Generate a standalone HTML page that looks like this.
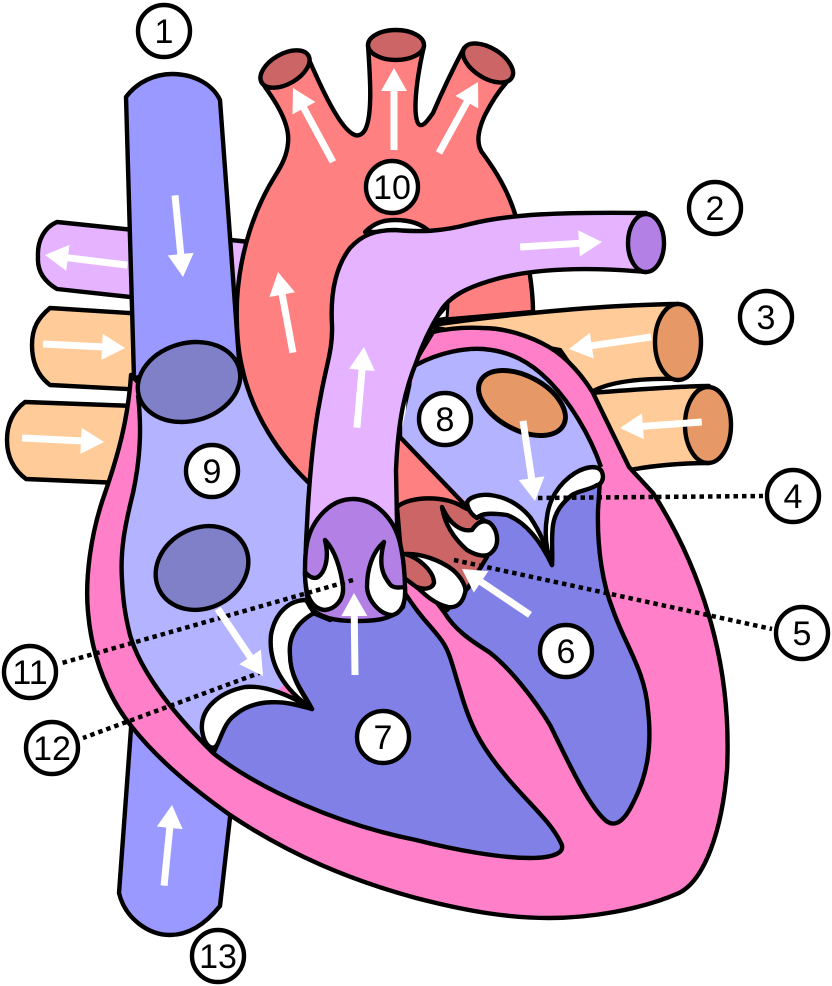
<!DOCTYPE html>
<html><head><meta charset="utf-8"><title>Heart diagram</title>
<style>html,body{margin:0;padding:0;background:#fff}svg{display:block}</style></head>
<body>
<svg xmlns="http://www.w3.org/2000/svg" width="832" height="986" viewBox="0 0 832 986">
<g stroke="#000" stroke-width="4.4" stroke-linejoin="round" stroke-linecap="butt">
<!-- left tubes -->
<path fill="#e5b3ff" d="M57,222 L250,242 L250,310 L57,289 C45,282 37,272 38,257 C37,240 45,227 57,222Z"/>
<path fill="#ffcc99" d="M50,308 L145,314 L145,390 L50,385 C38,376 32,362 32,345 C32,328 38,318 50,308Z"/>
<path fill="#ffcc99" d="M25,402 L135,406 L120,483 L26,479 C14,470 7,457 7,440 C7,424 13,411 25,402Z"/>
<!-- right orange tubes -->
<path fill="#ffcc99" d="M590,393 C630,390 680,386 709,386 L709,463 C680,463 650,466 630,470Z"/>
<ellipse cx="708" cy="425" rx="23" ry="38" fill="#e69966"/>
<path fill="#ffcc99" d="M425,326 C500,315 600,305 678,304 L679,379 C650,378 610,380 590,393 L560,350Z"/>
<ellipse cx="678" cy="342" rx="23" ry="38" fill="#e69966"/>
<!-- IVC -->
<path fill="#9999ff" d="M132,715 L119,893 C125,918 148,935 170,935 C190,935 207,922 220,906 L232,800Z"/>
<!-- heart muscle -->
<path fill="#ff80c8" d="M131,375 C128,420 118,455 105,493 C90,535 85,580 88,612 C92,660 110,700 132,727 C160,762 195,790 230,815 C290,855 350,880 416,898 C470,912 510,918 549,918 C590,918 640,910 679,893 C705,880 722,830 727,770 C730,710 722,660 709,616 C697,575 680,535 653,493 L629,467 L593,393 C584,378 568,358 549,347 C530,336 505,328 483,328 C465,327 450,328 433,332 L410,370 L400,600 L250,500Z"/>
<!-- right atrium -->
<path stroke="none" fill="#b3b3ff" d="M138,390 C142,430 140,460 133,493 C125,525 120,550 122,580 C123,600 125,615 130,635 C140,670 170,710 213,753 L330,640 L330,450 L240,360Z"/>
<path fill="none" d="M138,395 C142,430 140,460 133,493 C125,525 120,550 122,580 C123,600 125,615 130,635 C140,670 170,710 213,753"/>
<ellipse cx="202" cy="568" rx="48" ry="40" transform="rotate(-28 202 568)" fill="#8080c8"/>
<!-- right ventricle -->
<path fill="#8080e6" d="M213,753 C260,790 340,825 416,840 C455,850 500,858 530,858 C555,858 566,852 561,843 C550,820 525,800 505,775 C480,745 470,725 460,690 C452,665 450,650 439,637 C430,625 420,617 403,590 L330,620 L313,613 C295,620 287,640 290,660 C292,680 305,695 312,709 C290,703 270,697 245,706 C230,712 225,725 217,745 C215,750 214,752 213,753Z"/>
<!-- tricuspid leaflets -->
<path fill="#fff" d="M312,709 C300,690 290,675 290,655 C288,635 298,622 314,613 L306,600 C290,600 275,612 271,635 C268,665 285,690 312,709Z"/>
<path fill="#fff" d="M312,709 C290,695 265,685 245,687 C220,692 200,708 202,730 C204,745 212,752 217,745 C222,735 225,722 235,715 C255,698 285,700 312,709Z"/>
<!-- left atrium -->
<path stroke="none" fill="#b3b3ff" d="M416,365 C440,352 465,348 483,349 C510,351 530,362 548,380 C570,402 590,435 601,467 L600,490 L552,565 L467,503 L400,437Z"/>
<path fill="none" d="M416,365 C440,352 465,348 483,349 C510,351 530,362 548,380 C570,402 590,435 601,467"/>
<ellipse cx="522" cy="403" rx="47" ry="27" transform="rotate(28 522 403)" fill="#e69966" stroke-width="5"/>
<!-- left ventricle -->
<path stroke="none" fill="#8080e6" d="M444,612 C455,630 470,640 489,652 C510,668 535,700 550,725 C565,755 585,800 603,818 C612,828 622,825 632,805 C648,775 652,745 648,710 C645,670 625,645 613,610 C603,585 597,550 598,510 L600,480 L577,492 L557,510 L552,537 L552,565 L530,533 L507,515 L483,515 L476,518 L490,525 L465,590Z"/>
<path fill="none" d="M420,580 L444,612 C455,630 470,640 489,652 C510,668 535,700 550,725 C565,755 585,800 603,818 C612,828 622,825 632,805 C648,775 652,745 648,710 C645,670 625,645 613,610 C603,585 597,550 598,510 L600,480"/>
<!-- aorta -->
<path fill="#ff8080" d="M265,87 C278,105 290,125 288,143 C287,155 282,165 275,176 C255,208 240,250 237,300 C236,330 238,350 242,367 C252,415 280,455 308,482 L397,520 L465,505 L400,437 L400,330 L441,320 L533,312 C533,285 526,245 516,217 C508,190 495,170 484,155 C475,145 478,130 485,115 C490,105 498,92 506,83 L464,48 C455,65 445,85 433,113 C428,120 424,126 420,125 C413,122 414,90 424,46 L368,45 C370,75 373,115 365,130 C362,135 358,136 355,135 C340,130 320,85 307,55Z"/>
<ellipse cx="285" cy="69" rx="27" ry="15" transform="rotate(-30 285 69)" fill="#cc6666"/>
<ellipse cx="396" cy="45" rx="28" ry="15" fill="#cc6666"/>
<ellipse cx="488" cy="63" rx="28" ry="15" transform="rotate(32 488 63)" fill="#cc6666"/>
<!-- white ligament -->
<path fill="#fff" d="M365,232 C375,222 385,220 395,220 C410,220 422,224 430,232Z"/>
<path fill="#fff" d="M435,320 L448,305 L447,318Z" stroke-width="3"/>
<!-- SVC -->
<path fill="#9999ff" d="M126,97 C137,82 155,74 172,74 C195,74 213,85 220,100 L239,360 L134,378Z"/>
<ellipse cx="189" cy="382" rx="52" ry="39" transform="rotate(-15 189 382)" fill="#8080c8"/>
<!-- pulmonary trunk -->
<path fill="#e5b3ff" d="M305,575 C306,530 310,450 320,400 C326,365 333,350 332,325 C330,290 337,265 350,248 C362,235 375,230 395,230 C420,232 440,232 470,224 C510,214 560,212 646,213 L646,272 C590,267 540,268 500,278 C470,286 450,295 440,312 C430,328 422,345 416,363 C405,390 398,420 396,470 L398,575Z"/>
<ellipse cx="646" cy="243" rx="18" ry="29" fill="#b380e6"/>
<!-- aortic root -->
<path fill="#cc6666" d="M397,507 C410,496 445,495 463,507 C475,512 482,518 487,523 L487,557 L468,588 L447,610 L403,577Z"/>
<path fill="#fff" d="M442,507 C444,520 450,535 467,550 C477,556 487,558 492,552 C500,545 498,530 490,523 C482,518 476,524 472,530 C462,532 450,525 442,507Z"/>
<path fill="#fff" d="M405,554 C420,553 440,560 453,570 C462,578 467,588 465,593 C462,605 455,608 448,607 C435,604 425,595 417,587 C424,590 432,589 434,583 C434,572 420,558 405,554Z"/>
<!-- pulmonary cup -->
<path fill="#b380e6" d="M353,499 C330,499 312,520 307,543 C304,560 304,590 310,607 C320,618 335,621 355,621 C375,621 392,620 403,607 C407,590 404,560 400,543 C394,518 375,499 353,499Z"/>
<path fill="#fff" d="M325,540 C335,550 341,570 343,587 C344,600 335,609 325,610 C313,609 305,598 305,572 C310,578 315,579 318,577 C324,573 330,560 325,540Z"/>
<path fill="#fff" d="M384,542 C372,552 367,570 367,587 C368,602 382,616 393,615 C402,612 406,603 405,587 C397,588 392,588 389,583 C383,575 378,565 384,542Z"/>
<!-- mitral leaflets -->
<path fill="#fff" d="M552,565 C545,545 542,535 530,517 C518,503 505,497 490,495 C478,494 468,498 467,503 C468,510 472,515 477,518 C481,513 492,513 507,515 C525,522 540,540 552,565Z"/>
<path fill="#fff" d="M552,565 C546,550 544,535 547,517 C549,500 558,484 575,473 C585,467 598,464 602,472 C605,480 600,485 597,485 C590,490 580,490 572,495 C562,503 555,512 553,525 C551,540 553,555 552,565Z"/>
</g>
<!-- dotted leaders -->
<g stroke="#000" stroke-width="4.5" stroke-dasharray="4.5 4" fill="none">
<path d="M538,498 L763,496"/>
<path d="M454,560 L772,629"/>
<path d="M353,580 L62,663"/>
<path d="M262,672 L83,738"/>
</g>
<!-- white arrows -->
<g fill="#fff">
<path transform="translate(183,277) rotate(84.4)" d="M0,0L-23,-13V-3.5H-82V3.5H-23V13Z"/>
<path transform="translate(45,255) rotate(187)" d="M0,0L-23,-13V-3.5H-83V3.5H-23V13Z"/>
<path transform="translate(125,348) rotate(2.8)" d="M0,0L-23,-13V-3.5H-82V3.5H-23V13Z"/>
<path transform="translate(104,442) rotate(2.8)" d="M0,0L-23,-13V-3.5H-82V3.5H-23V13Z"/>
<path transform="translate(293,88) rotate(-118.4)" d="M0,0L-23,-13V-3.5H-84V3.5H-23V13Z"/>
<path transform="translate(394,68) rotate(-90)" d="M0,0L-23,-13V-3.5H-82V3.5H-23V13Z"/>
<path transform="translate(478,82) rotate(-61.2)" d="M0,0L-23,-13V-3.5H-81V3.5H-23V13Z"/>
<path transform="translate(278,272) rotate(-100.5)" d="M0,0L-23,-13V-3.5H-82V3.5H-23V13Z"/>
<path transform="translate(364,347) rotate(-85)" d="M0,0L-23,-13V-3.5H-81V3.5H-23V13Z"/>
<path transform="translate(602,242) rotate(-3.5)" d="M0,0L-23,-13V-3.5H-82V3.5H-23V13Z"/>
<path transform="translate(569,349) rotate(171.7)" d="M0,0L-23,-13V-3.5H-83V3.5H-23V13Z"/>
<path transform="translate(620,428) rotate(175.8)" d="M0,0L-23,-13V-3.5H-82V3.5H-23V13Z"/>
<path transform="translate(535,501) rotate(81.5)" d="M0,0L-23,-13V-3.5H-81V3.5H-23V13Z"/>
<path transform="translate(263,676) rotate(56)" d="M0,0L-23,-13V-3.5H-81V3.5H-23V13Z"/>
<path transform="translate(354,593) rotate(-90.7)" d="M0,0L-23,-13V-3.5H-82V3.5H-23V13Z"/>
<path transform="translate(462,569) rotate(-146)" d="M0,0L-23,-13V-3.5H-82V3.5H-23V13Z"/>
<path transform="translate(172,805) rotate(-84.4)" d="M0,0L-23,-13V-3.5H-81V3.5H-23V13Z"/>
</g>
<!-- number badges -->
<g fill="#fff" stroke="#000" stroke-width="4.4">
<circle cx="164" cy="31" r="26"/><circle cx="715" cy="208" r="26"/><circle cx="766" cy="317" r="26"/>
<circle cx="793" cy="496" r="26"/><circle cx="802" cy="633" r="26"/><circle cx="566" cy="651" r="26"/>
<circle cx="383" cy="737" r="26"/><circle cx="445" cy="419" r="26"/><circle cx="212" cy="471" r="26"/>
<circle cx="392" cy="187" r="26"/><circle cx="30" cy="672" r="26"/><circle cx="52" cy="748" r="26"/>
<circle cx="218" cy="956" r="26"/>
</g>
<g fill="#000" font-family="'Liberation Sans', sans-serif" font-size="34" text-anchor="middle">
<text x="164" y="43">1</text><text x="715" y="220">2</text><text x="766" y="329">3</text>
<text x="793" y="508">4</text><text x="802" y="645">5</text><text x="566" y="663">6</text>
<text x="383" y="749">7</text><text x="445" y="431">8</text><text x="212" y="483">9</text>
<text x="392" y="199">10</text><text x="30" y="684">11</text><text x="52" y="760">12</text>
<text x="218" y="968">13</text>
</g>
</svg>
</body></html>
